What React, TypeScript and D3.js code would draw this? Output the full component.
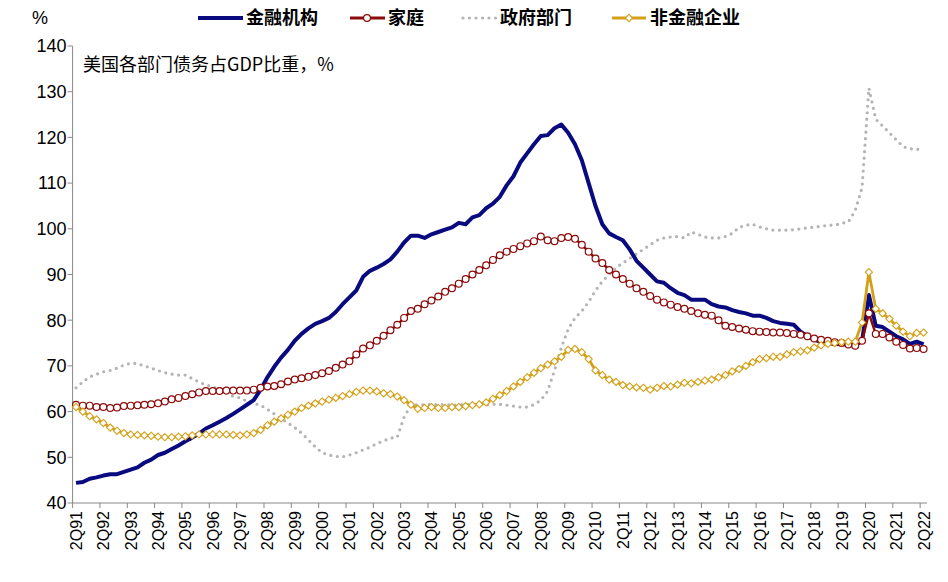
import React from "react";
import * as d3 from "d3";

const yearLabels: string[] = Array.from({ length: 32 }, (_, k) => "2Q" + String((91 + k) % 100).padStart(2, "0"));

const financial: number[] = [
44.4,44.6,45.3,45.6, 46.0,46.3,46.3,46.8, 47.3,47.8,48.8,49.5, 50.5,51.0,51.8,52.6,
53.5,54.3,55.2,56.3, 57.0,57.8,58.6,59.5, 60.5,61.5,62.5,64.8, 67.5,69.8,71.8,73.5,
75.5,77.0,78.2,79.2, 79.8,80.5,81.8,83.5, 85.0,86.5,89.5,90.8, 91.5,92.3,93.3,95.0,
97.0,98.5,98.5,98.0, 98.8,99.3,99.8,100.3, 101.3,101.0,102.5,103.0, 104.5,105.5,107.0,109.5,
111.5,114.5,116.5,118.5, 120.3,120.5,122.0,122.8, 121.0,118.5,115.0,110.0, 105.0,101.0,99.0,98.2,
97.5,95.5,93.0,91.5, 90.0,88.5,88.2,87.0, 86.0,85.5,84.5,84.5, 84.5,83.5,83.0,82.8,
82.2,81.8,81.5,81.0, 81.0,80.5,79.8,79.4, 79.2,79.0,77.5,76.5, 75.8,75.2,75.0,74.8,
74.8,74.6,74.5,75.5, 85.5,78.8,78.5,77.5, 76.5,75.8,74.8,75.3, 74.7];

const household: number[] = [
61.5,61.3,61.3,61.0, 61.0,60.8,60.9,61.2, 61.3,61.4,61.5,61.6, 61.8,62.2,62.7,63.0,
63.4,63.8,64.2,64.5, 64.5,64.5,64.6,64.6, 64.6,64.6,64.8,65.2, 65.5,65.6,66.0,66.6,
67.0,67.3,67.6,68.0, 68.4,68.9,69.6,70.3, 71.0,72.5,73.8,74.5, 75.5,76.6,77.8,79.0,
80.5,82.0,82.5,83.5, 84.3,85.2,86.2,87.0, 88.0,89.0,90.0,91.0, 92.0,93.2,94.2,95.0,
95.6,96.2,96.8,97.3, 98.3,97.5,97.3,98.0, 98.2,97.8,96.5,95.0, 93.5,92.5,91.0,90.0,
89.0,88.0,87.0,86.2, 85.3,84.5,83.9,83.4, 82.9,82.5,82.0,81.5, 81.2,81.0,80.0,78.8,
78.5,78.2,77.9,77.6, 77.5,77.4,77.3,77.3, 77.2,77.0,76.8,76.5, 76.0,75.7,75.5,75.2,
75.0,74.7,74.4,75.5, 81.5,77.0,77.0,76.2, 75.3,74.6,73.8,73.9, 73.7];

const government: number[] = [
65.2,66.5,67.6,68.2, 68.7,69.0,69.5,70.2, 70.6,70.5,70.0,69.5, 69.0,68.5,68.2,68.0,
68.0,67.2,66.5,65.8, 65.5,64.8,64.0,63.3, 63.0,62.3,61.8,61.4, 60.5,59.5,58.5,57.5,
56.5,55.3,53.8,52.3, 51.0,50.5,50.2,50.1, 50.5,51.0,51.6,52.2, 53.0,53.6,54.2,54.4,
58.8,61.4,61.5,61.5, 61.6,61.5,61.6,61.4, 61.5,61.6,61.6,61.5, 61.5,61.6,61.6,61.4,
61.2,61.0,61.0,61.5, 62.5,64.5,69.0,74.0, 78.0,80.5,82.0,84.0, 86.5,88.5,90.0,91.5,
92.5,93.5,94.5,95.5, 96.5,97.5,98.0,98.2, 98.3,98.0,99.3,98.8, 98.2,98.0,98.0,98.3,
99.0,100.3,100.8,101.0, 100.4,100.0,99.7,99.7, 99.7,99.8,100.0,100.2, 100.4,100.5,100.8,100.8,
101.2,101.5,104.0,109.0, 130.8,124.0,122.5,121.0, 119.5,118.0,117.5,117.5, 116.8];

const nonfinancial: number[] = [
61.0,60.0,59.0,58.3, 57.5,56.5,55.8,55.3, 55.0,54.9,54.8,54.7, 54.5,54.4,54.4,54.5,
54.6,54.8,55.0,55.0, 55.0,55.0,55.0,54.9, 54.8,55.0,55.3,56.0, 57.0,57.8,58.5,59.3,
60.0,60.8,61.3,61.8, 62.2,62.6,63.0,63.4, 63.8,64.3,64.6,64.6, 64.4,64.0,63.8,63.3,
62.5,61.5,60.6,60.8, 61.0,60.8,60.8,61.0, 61.0,61.2,61.4,61.6, 62.0,62.8,63.6,64.5,
65.5,66.5,67.5,68.5, 69.5,70.3,71.0,72.0, 73.5,73.7,73.0,71.5, 69.0,68.0,67.0,66.5,
65.8,65.5,65.3,65.2, 64.8,65.2,65.6,65.5, 65.9,66.3,66.2,66.5, 66.8,67.0,67.5,68.0,
68.8,69.3,70.0,70.8, 71.5,71.7,72.0,72.0, 72.5,73.0,73.2,73.4, 74.0,74.5,74.8,75.0,
75.2,75.3,75.3,79.5, 90.5,82.5,81.5,80.3, 78.8,77.5,76.5,77.2, 77.3];

const yTicks = [40, 50, 60, 70, 80, 90, 100, 110, 120, 130, 140];

const W = 948, H = 582;
const left = 72.6, right = 927, top = 46, bottom = 503;
const n = financial.length;
const bw = (right - left) / n;

export default function App() {
  const x = (i: number) => left + bw * (i + 0.5);
  const y = d3.scaleLinear().domain([40, 140]).range([bottom, top]);
  const line = (arr: number[]) =>
    d3.line<number>().x((_, i) => x(i)).y((v) => y(v))(arr) as string;
  const font = "'Liberation Sans', Arial, sans-serif";
  const cjk = "'Noto Sans CJK SC', sans-serif";
  const diamond = (cx: number, cy: number, r: number) =>
    `M${cx},${cy - r}L${cx + r},${cy}L${cx},${cy + r}L${cx - r},${cy}Z`;

  return (
    <svg width={W} height={H} style={{ position: "absolute", left: 0, top: 0, background: "#fff" }}>
      <line x1={left} x2={left} y1={top} y2={bottom} stroke="#888" />
      {yTicks.map((t) => (
        <g key={t}>
          <line x1={left - 5} x2={left} y1={y(t)} y2={y(t)} stroke="#888" />
          <text x={left - 6} y={y(t)} dy="0.35em" textAnchor="end" fontFamily={font} fontSize={18}>{t}</text>
        </g>
      ))}
      <text x={40} y={24} textAnchor="middle" fontFamily={font} fontSize={18}>%</text>
      <line x1={left} x2={right} y1={bottom} y2={bottom} stroke="#888" />
      {d3.range(0, n + 1, 4).map((k) => (
        <line key={k} x1={left + k * bw} x2={left + k * bw} y1={bottom} y2={bottom + 5} stroke="#888" />
      ))}
      {yearLabels.map((lab, k) => (
        <text key={lab} transform={`translate(${x(k * 4) + 6},${bottom + 8}) rotate(-90)`} textAnchor="end"
          fontFamily={font} fontSize={16}>{lab}</text>
      ))}
      <text x={83} y={71} fontFamily={cjk} fontSize={18}>美国各部门债务占GDP比重，%</text>
      <path d={line(government)} fill="none" stroke="#b4b4b4" strokeWidth={3.2} strokeLinecap="round" strokeDasharray="0 6.5" />
      <path d={line(financial)} fill="none" stroke="#0a0a80" strokeWidth={4} strokeLinejoin="round" />
      <path d={line(household)} fill="none" stroke="#8b0a0a" strokeWidth={2.5} strokeLinejoin="round" />
      {household.map((v, i) => (
        <circle key={i} cx={x(i)} cy={y(v)} r={3.4} fill="#fff" stroke="#8b0a0a" strokeWidth={1.2} />
      ))}
      <path d={line(nonfinancial)} fill="none" stroke="#d4a017" strokeWidth={2.8} strokeLinejoin="round" />
      {nonfinancial.map((v, i) => (
        <path key={i} d={diamond(x(i), y(v), 3.6)} fill="#fff" stroke="#d4a017" strokeWidth={1.1} />
      ))}
      <g fontFamily={cjk} fontSize={18} fontWeight={700}>
        <line x1={198} x2={243} y1={18} y2={18} stroke="#0a0a80" strokeWidth={4} />
        <text x={246} y={18} dy="0.35em">金融机构</text>
        <line x1={350} x2={385} y1={18} y2={18} stroke="#8b0a0a" strokeWidth={3} />
        <circle cx={367} cy={18} r={3.4} fill="#fff" stroke="#8b0a0a" strokeWidth={1.2} />
        <text x={388} y={18} dy="0.35em">家庭</text>
        <line x1={463} x2={497} y1={18} y2={18} stroke="#b4b4b4" strokeWidth={3.2} strokeLinecap="round" strokeDasharray="0 6.5" />
        <text x={500} y={18} dy="0.35em">政府部门</text>
        <line x1={612} x2={646} y1={18} y2={18} stroke="#d4a017" strokeWidth={3} />
        <path d={diamond(629, 18, 3.6)} fill="#fff" stroke="#d4a017" strokeWidth={1.1} />
        <text x={650} y={18} dy="0.35em">非金融企业</text>
      </g>
    </svg>
  );
}
